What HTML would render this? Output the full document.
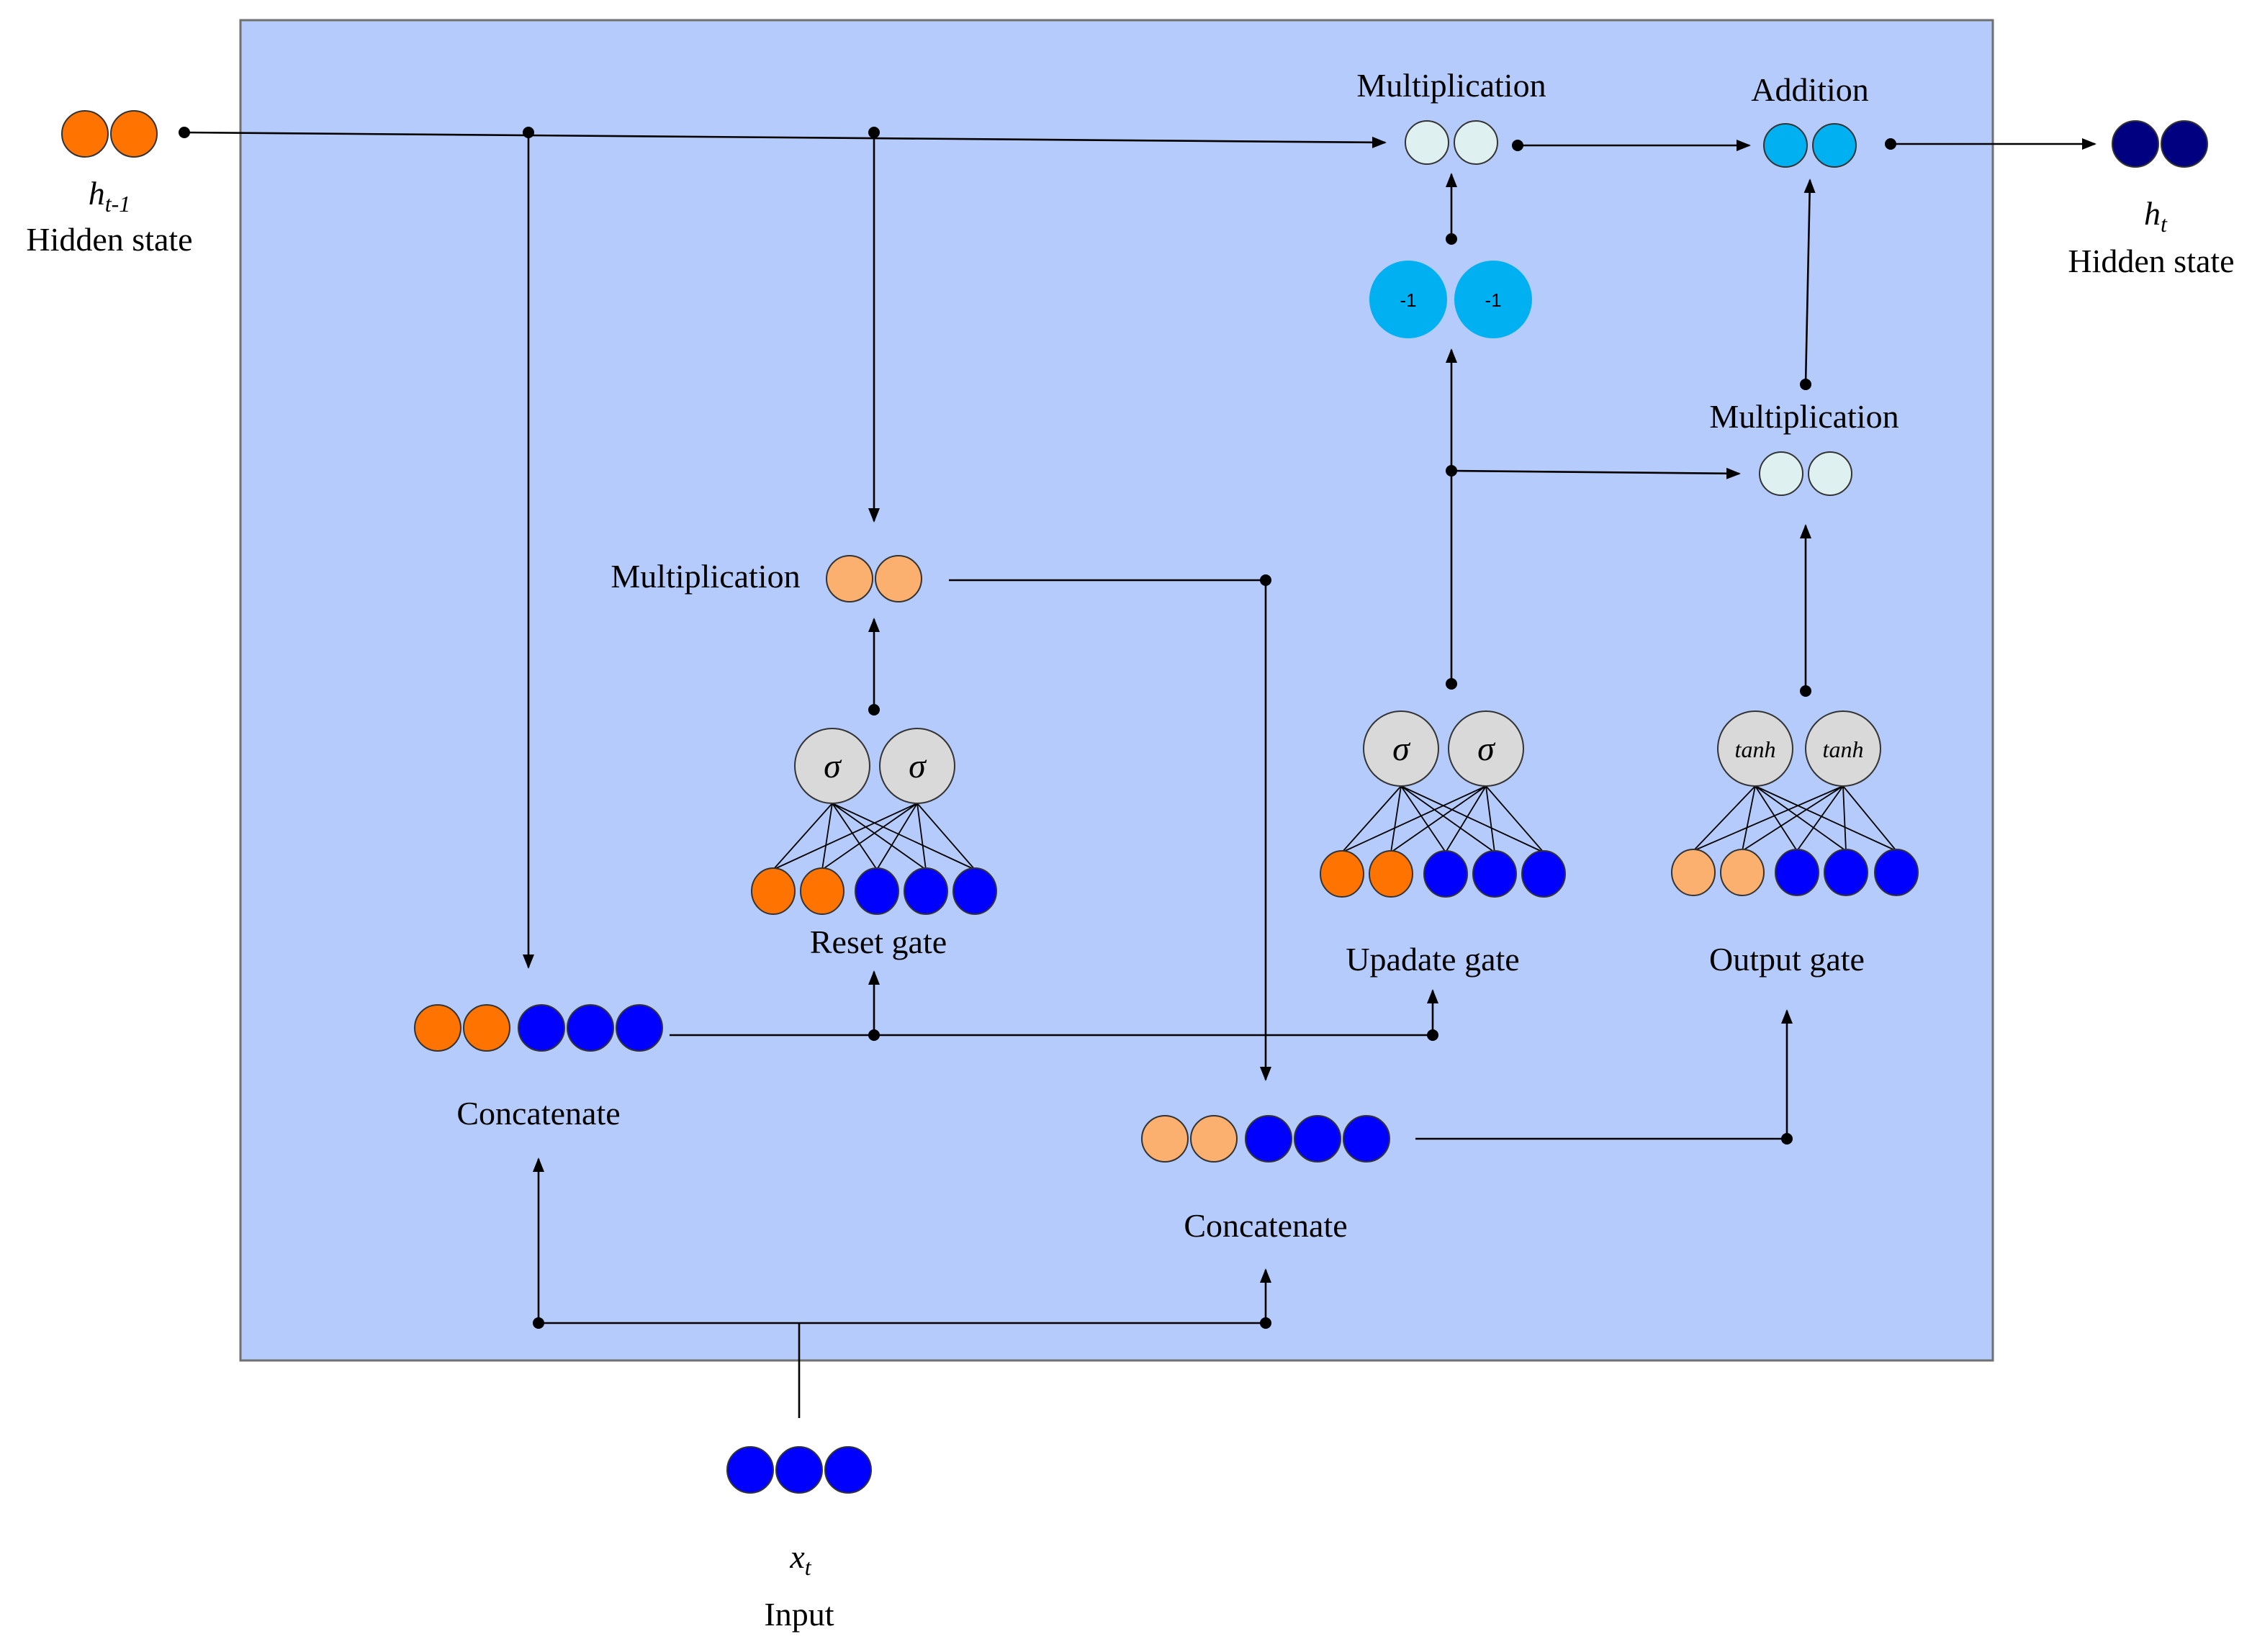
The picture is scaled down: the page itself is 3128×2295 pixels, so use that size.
<!DOCTYPE html>
<html><head><meta charset="utf-8"><style>html,body{margin:0;padding:0;background:#fff}svg{display:block}</style></head><body>
<svg width="3128" height="2295" viewBox="0 0 1564 1147.5" xmlns="http://www.w3.org/2000/svg" font-family="Liberation Serif, serif">
<defs>
<marker id="a" markerWidth="10" markerHeight="8" refX="9" refY="4" orient="auto" markerUnits="userSpaceOnUse"><path d="M0,0 L10,4 L0,8 z" fill="#000"/></marker>
</defs>
<rect x="167" y="14" width="1217" height="931" fill="#b4cbfb" stroke="#707070" stroke-width="1.5"/>
<g stroke="#000" stroke-width="1.3" fill="none">
<line x1="128" y1="92" x2="962" y2="99" marker-end="url(#a)"/>
<line x1="367" y1="92" x2="367" y2="672" marker-end="url(#a)"/>
<line x1="607" y1="92" x2="607" y2="362" marker-end="url(#a)"/>
<polyline points="659,403 879,403 879,750" marker-end="url(#a)"/>
<line x1="607" y1="493" x2="607" y2="430" marker-end="url(#a)"/>
<line x1="465" y1="719" x2="995" y2="719"/>
<line x1="607" y1="719" x2="607" y2="675" marker-end="url(#a)"/>
<line x1="995" y1="719" x2="995" y2="688" marker-end="url(#a)"/>
<line x1="555" y1="985" x2="555" y2="919"/>
<line x1="374" y1="919" x2="879" y2="919"/>
<line x1="374" y1="919" x2="374" y2="805" marker-end="url(#a)"/>
<line x1="879" y1="919" x2="879" y2="882" marker-end="url(#a)"/>
<polyline points="983,791 1241,791 1241,702" marker-end="url(#a)"/>
<line x1="1008" y1="475" x2="1008" y2="243" marker-end="url(#a)"/>
<line x1="1008" y1="327" x2="1208" y2="329" marker-end="url(#a)"/>
<line x1="1008" y1="166" x2="1008" y2="121" marker-end="url(#a)"/>
<line x1="1054" y1="101" x2="1215" y2="101" marker-end="url(#a)"/>
<line x1="1313" y1="100" x2="1455" y2="100" marker-end="url(#a)"/>
<line x1="1254" y1="267" x2="1257" y2="125" marker-end="url(#a)"/>
<line x1="1254" y1="480" x2="1254" y2="365" marker-end="url(#a)"/>
</g>
<g fill="#000">
<circle cx="128" cy="92" r="4"/><circle cx="367" cy="92" r="4"/><circle cx="607" cy="92" r="4"/>
<circle cx="879" cy="403" r="4"/><circle cx="607" cy="493" r="4"/><circle cx="607" cy="719" r="4"/><circle cx="995" cy="719" r="4"/>
<circle cx="374" cy="919" r="4"/><circle cx="879" cy="919" r="4"/><circle cx="1241" cy="791" r="4"/>
<circle cx="1008" cy="475" r="4"/><circle cx="1008" cy="327" r="4"/><circle cx="1008" cy="166" r="4"/>
<circle cx="1054" cy="101" r="4"/><circle cx="1313" cy="100" r="4"/><circle cx="1254" cy="267" r="4"/><circle cx="1254" cy="480" r="4"/>
</g>
<!-- fan lines -->
<g stroke="#000" stroke-width="0.9">
<path d="M578,558L537,604M578,558L571,604M578,558L609,604M578,558L643,604M578,558L677,604M637,558L537,604M637,558L571,604M637,558L609,604M637,558L643,604M637,558L677,604"/>
<path d="M973,546L932,592M973,546L966,592M973,546L1004,592M973,546L1038,592M973,546L1072,592M1032,546L932,592M1032,546L966,592M1032,546L1004,592M1032,546L1038,592M1032,546L1072,592"/>
<path d="M1219,546L1176,591M1219,546L1210,591M1219,546L1248,591M1219,546L1282,591M1219,546L1317,591M1280,546L1176,591M1280,546L1210,591M1280,546L1248,591M1280,546L1282,591M1280,546L1317,591"/>
</g>
<g stroke="#333" stroke-width="1">
<circle cx="59" cy="93" r="16" fill="#ff7300"/><circle cx="93" cy="93" r="16" fill="#ff7300"/>
<circle cx="590" cy="402" r="16" fill="#fbb070"/><circle cx="624" cy="402" r="16" fill="#fbb070"/>
<ellipse cx="578" cy="532" rx="26" ry="26" fill="#d9d9d9"/><ellipse cx="637" cy="532" rx="26" ry="26" fill="#d9d9d9"/>
<ellipse cx="537" cy="619" rx="15" ry="16" fill="#ff7300"/><ellipse cx="571" cy="619" rx="15" ry="16" fill="#ff7300"/>
<ellipse cx="609" cy="619" rx="15" ry="16" fill="#0000ff"/><ellipse cx="643" cy="619" rx="15" ry="16" fill="#0000ff"/><ellipse cx="677" cy="619" rx="15" ry="16" fill="#0000ff"/>
<circle cx="304" cy="714" r="16" fill="#ff7300"/><circle cx="338" cy="714" r="16" fill="#ff7300"/>
<circle cx="376" cy="714" r="16" fill="#0000ff"/><circle cx="410" cy="714" r="16" fill="#0000ff"/><circle cx="444" cy="714" r="16" fill="#0000ff"/>
<circle cx="521" cy="1021" r="16" fill="#0000ff"/><circle cx="555" cy="1021" r="16" fill="#0000ff"/><circle cx="589" cy="1021" r="16" fill="#0000ff"/>
<circle cx="809" cy="791" r="16" fill="#fbb070"/><circle cx="843" cy="791" r="16" fill="#fbb070"/>
<circle cx="881" cy="791" r="16" fill="#0000ff"/><circle cx="915" cy="791" r="16" fill="#0000ff"/><circle cx="949" cy="791" r="16" fill="#0000ff"/>
<ellipse cx="973" cy="520" rx="26" ry="26" fill="#d9d9d9"/><ellipse cx="1032" cy="520" rx="26" ry="26" fill="#d9d9d9"/>
<ellipse cx="932" cy="607" rx="15" ry="16" fill="#ff7300"/><ellipse cx="966" cy="607" rx="15" ry="16" fill="#ff7300"/>
<ellipse cx="1004" cy="607" rx="15" ry="16" fill="#0000ff"/><ellipse cx="1038" cy="607" rx="15" ry="16" fill="#0000ff"/><ellipse cx="1072" cy="607" rx="15" ry="16" fill="#0000ff"/>
<ellipse cx="1219" cy="520" rx="26" ry="26" fill="#d9d9d9"/><ellipse cx="1280" cy="520" rx="26" ry="26" fill="#d9d9d9"/>
<ellipse cx="1176" cy="606" rx="15" ry="16" fill="#fbb070"/><ellipse cx="1210" cy="606" rx="15" ry="16" fill="#fbb070"/>
<ellipse cx="1248" cy="606" rx="15" ry="16" fill="#0000ff"/><ellipse cx="1282" cy="606" rx="15" ry="16" fill="#0000ff"/><ellipse cx="1317" cy="606" rx="15" ry="16" fill="#0000ff"/>
<circle cx="991" cy="99" r="15" fill="#dff0f0"/><circle cx="1025" cy="99" r="15" fill="#dff0f0"/>
<circle cx="1240" cy="101" r="15" fill="#00b0f0"/><circle cx="1274" cy="101" r="15" fill="#00b0f0"/>
<circle cx="1237" cy="329" r="15" fill="#dff0f0"/><circle cx="1271" cy="329" r="15" fill="#dff0f0"/>
<circle cx="1483" cy="100" r="16" fill="#000080"/><circle cx="1517" cy="100" r="16" fill="#000080"/>
</g>
<circle cx="978" cy="208" r="27" fill="#00b0f0"/><circle cx="1037" cy="208" r="27" fill="#00b0f0"/>
<g font-family="Liberation Sans, sans-serif" font-size="13" text-anchor="middle" fill="#000">
<text x="978" y="213">-1</text><text x="1037" y="213">-1</text>
</g>
<g font-style="italic" text-anchor="middle" fill="#000">
<text x="578" y="540" font-size="24">σ</text><text x="637" y="540" font-size="24">σ</text>
<text x="973" y="528" font-size="24">σ</text><text x="1032" y="528" font-size="24">σ</text>
<text x="1219" y="526" font-size="16">tanh</text><text x="1280" y="526" font-size="16">tanh</text>
</g>
<g font-size="23" text-anchor="middle" fill="#000">
<text x="76" y="142" font-style="italic">h<tspan font-size="16" dy="5">t-1</tspan></text>
<text x="76" y="174">Hidden state</text>
<text x="1497" y="156" font-style="italic">h<tspan font-size="16" dy="5">t</tspan></text>
<text x="1494" y="189">Hidden state</text>
<text x="556" y="1089" font-style="italic">x<tspan font-size="16" dy="5">t</tspan></text>
<text x="555" y="1129">Input</text>
<text x="1008" y="67">Multiplication</text>
<text x="1257" y="70">Addition</text>
<text x="1253" y="297">Multiplication</text>
<text x="490" y="408">Multiplication</text>
<text x="610" y="662">Reset gate</text>
<text x="995" y="674">Upadate gate</text>
<text x="1241" y="674">Output gate</text>
<text x="374" y="781">Concatenate</text>
<text x="879" y="859">Concatenate</text>
</g>
</svg>
</body></html>
